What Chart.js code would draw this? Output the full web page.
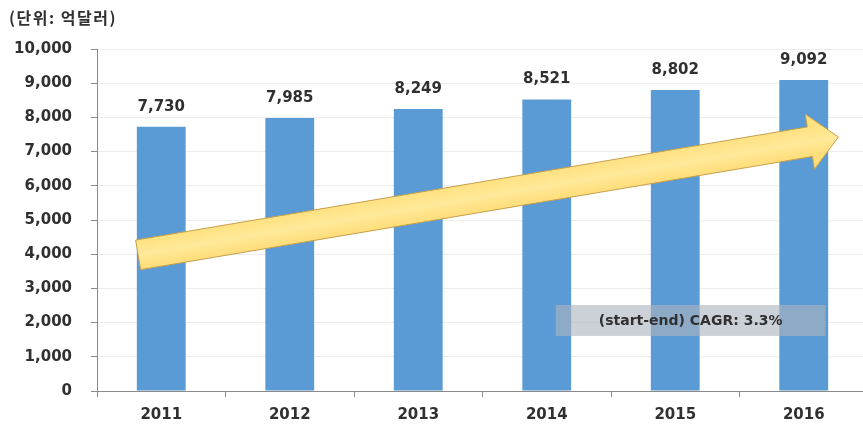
<!DOCTYPE html>
<html>
<head>
<meta charset="utf-8">
<script src="https://cdn.jsdelivr.net/npm/chart.js@4/dist/chart.umd.min.js"></script>
<style>
  html, body { margin: 0; padding: 0; background: #fff; overflow: hidden; }
  #wrap { position: relative; width: 872px; height: 432px; }
</style>
</head>
<body>
<div id="wrap"><canvas id="c"></canvas></div>
<script>
// Market size by year (unit: 100M USD)
const years = ['2011', '2012', '2013', '2014', '2015', '2016'];
const marketSize = [7730, 7985, 8249, 8521, 8802, 9092];
const yTickValues = [0, 1000, 2000, 3000, 4000, 5000, 6000, 7000, 8000, 9000, 10000];
const unitLabel = '(단위: 억달러)';
const cagrLabel = '(start-end) CAGR: 3.3%';
// Trend arrow ends, as [category index, value]
const trendTail = [-0.18, 3980];
const trendTip = [5.27, 7430];
// Note box corners, as [category index, value]
const noteBoxFrom = [3.07, 2515];
const noteBoxTo = [5.17, 1610];

const TEXT = '#303030';
const AXIS = '#8a8a8a';
const NUM_FONT = '"DejaVu Sans", sans-serif';

const fmt = v => Number(v).toLocaleString('en-US');

// Value labels above each bar
const barLabels = {
  id: 'barLabels',
  afterDatasetsDraw(chart) {
    const ctx = chart.ctx;
    const meta = chart.getDatasetMeta(0);
    ctx.save();
    ctx.font = 'bold 15px ' + NUM_FONT;
    ctx.fillStyle = TEXT;
    ctx.textAlign = 'center';
    ctx.textBaseline = 'middle';
    meta.data.forEach((bar, i) => {
      ctx.fillText(fmt(marketSize[i]), bar.x, bar.y - 20);
    });
    ctx.restore();
  }
};

// Growth arrow and CAGR note
const trendArrow = {
  id: 'trendArrow',
  afterDatasetsDraw(chart) {
    const { ctx, scales: { x, y } } = chart;
    const p0 = { x: x.getPixelForValue(trendTail[0]), y: y.getPixelForValue(trendTail[1]) };
    const p1 = { x: x.getPixelForValue(trendTip[0]), y: y.getPixelForValue(trendTip[1]) };
    const dx = p1.x - p0.x, dy = p1.y - p0.y;
    const len = Math.hypot(dx, dy);
    const u = { x: dx / len, y: dy / len };
    const n = { x: -u.y, y: u.x };
    const sw = 15, hw = 28, hl = 29;
    const h = { x: p1.x - u.x * hl, y: p1.y - u.y * hl };
    const pts = [
      [p0.x - n.x * sw, p0.y - n.y * sw],
      [h.x - n.x * sw, h.y - n.y * sw],
      [h.x - n.x * hw, h.y - n.y * hw],
      [p1.x, p1.y],
      [h.x + n.x * hw, h.y + n.y * hw],
      [h.x + n.x * sw, h.y + n.y * sw],
      [p0.x + n.x * sw, p0.y + n.y * sw]
    ];
    ctx.save();
    const g = ctx.createLinearGradient(
      p0.x - n.x * sw, p0.y - n.y * sw, p0.x + n.x * sw, p0.y + n.y * sw);
    g.addColorStop(0, '#FFE180');
    g.addColorStop(0.5, '#FFE99A');
    g.addColorStop(1, '#FFDD78');
    ctx.beginPath();
    pts.forEach((p, i) => i ? ctx.lineTo(p[0], p[1]) : ctx.moveTo(p[0], p[1]));
    ctx.closePath();
    ctx.fillStyle = g;
    ctx.fill();
    ctx.lineWidth = 1;
    ctx.strokeStyle = '#C4A04E';
    ctx.stroke();

    // CAGR note box
    const bx0 = x.getPixelForValue(noteBoxFrom[0]), by0 = y.getPixelForValue(noteBoxFrom[1]);
    const bx1 = x.getPixelForValue(noteBoxTo[0]), by1 = y.getPixelForValue(noteBoxTo[1]);
    ctx.fillStyle = 'rgba(172,180,190,0.62)';
    ctx.fillRect(bx0, by0, bx1 - bx0, by1 - by0);
    ctx.font = 'bold 14px ' + NUM_FONT;
    ctx.fillStyle = TEXT;
    ctx.textAlign = 'center';
    ctx.textBaseline = 'middle';
    ctx.fillText(cagrLabel, (bx0 + bx1) / 2, (by0 + by1) / 2 + 1);

    // unit caption
    ctx.font = 'bold 16px "Noto Sans CJK KR", sans-serif';
    ctx.letterSpacing = '1.5px';
    ctx.textAlign = 'left';
    ctx.fillText(unitLabel, 9, 18);
    ctx.restore();
  }
};

new Chart(document.getElementById('c'), {
  type: 'bar',
  data: {
    labels: years,
    datasets: [{
      data: marketSize,
      backgroundColor: '#5B9BD5',
      borderWidth: 0,
      categoryPercentage: 1,
      barPercentage: 0.38
    }]
  },
  options: {
    responsive: true,
    maintainAspectRatio: false,
    animation: false,
    layout: { padding: { left: 0, right: 4, top: 49, bottom: 0 } },
    plugins: { legend: { display: false }, tooltip: { enabled: false } },
    scales: {
      x: {
        afterFit(s) { s.height = 41; },
        grid: { drawOnChartArea: false, color: AXIS, tickColor: AXIS, tickLength: 6 },
        border: { color: AXIS, width: 1 },
        ticks: { color: TEXT, font: { family: NUM_FONT, size: 15, weight: 'bold' }, padding: 9 }
      },
      y: {
        min: 0,
        max: 10000,
        afterFit(s) { s.width = 97; },
        afterBuildTicks(s) { s.ticks = yTickValues.map(v => ({ value: v })); },
        grid: { color: '#ececec', tickColor: AXIS, tickLength: 6 },
        border: { color: AXIS, width: 1 },
        ticks: {
          color: TEXT,
          font: { family: NUM_FONT, size: 15, weight: 'bold' },
          padding: 19,
          callback: v => fmt(v)
        }
      }
    }
  },
  plugins: [barLabels, trendArrow]
});
</script>
</body>
</html>
